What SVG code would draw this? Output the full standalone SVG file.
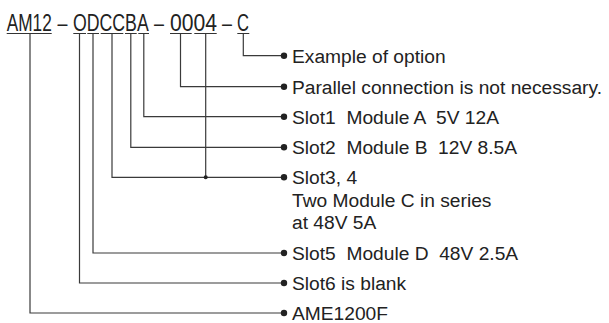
<svg xmlns="http://www.w3.org/2000/svg" width="609" height="323" viewBox="0 0 609 323">
<style>
.code{font-family:"Liberation Sans",Arial,sans-serif;font-size:23px;fill:#222;}
.lbl{font-family:"Liberation Sans",Arial,sans-serif;font-size:19.2px;fill:#222;}
.ul{stroke:#333;stroke-width:1.2;fill:none;}
.con{stroke:#3a3a3a;stroke-width:1.2;fill:none;}
.dot{fill:#222;}
</style>
<rect width="609" height="323" fill="#fff"/>
<g id="code">
<text class="code" transform="translate(6.7 31.3) scale(0.75 1)">AM12</text>
<text class="code" transform="translate(57.5 31.3) scale(0.78 1)">–</text>
<text class="code" transform="translate(73 31.3) scale(0.77 1)">ODCCBA</text>
<text class="code" transform="translate(154 31.3) scale(0.78 1)">–</text>
<text class="code" transform="translate(170 31.3) scale(0.92 1)">0004</text>
<text class="code" transform="translate(222 31.3) scale(0.78 1)">–</text>
<text class="code" transform="translate(237 31.3) scale(0.72 1)">C</text>
<path class="ul" d="M6.7 33.5H51.7M73.3 33.5H86M87.3 33.5H99M100.7 33.5H123.3M125 33.5H136.7M138.3 33.5H149M170 33.5H191.7M194.3 33.5H216.7M237.3 33.5H249.3"/>
</g>
<g id="connectors">
<path class="con" d="M243.3 34V55.7H283"/>
<path class="con" d="M180.5 34V86.7H283"/>
<path class="con" d="M143.8 34V116.7H283"/>
<path class="con" d="M130.8 34V147.3H283"/>
<path class="con" d="M112 34V177.3H283"/>
<path class="con" d="M205.7 34V177.3"/>
<path class="con" d="M93 34V253H283"/>
<path class="con" d="M79.5 34V283H283"/>
<path class="con" d="M30 34V313H283"/>
<circle class="dot" cx="205.7" cy="177.3" r="2"/>
</g>
<g id="opt"><circle class="dot" cx="284" cy="55.7" r="3.2"/><text class="lbl" x="292" y="62.5">Example of option</text></g>
<g id="parallel"><circle class="dot" cx="284" cy="86.7" r="3.2"/><text class="lbl" x="292" y="93.5">Parallel connection is not necessary.</text></g>
<g id="slot1"><circle class="dot" cx="284" cy="116.7" r="3.2"/><text class="lbl" x="292" y="123.5" xml:space="preserve">Slot1  Module A  5V 12A</text></g>
<g id="slot2"><circle class="dot" cx="284" cy="147.3" r="3.2"/><text class="lbl" x="292" y="154" xml:space="preserve">Slot2  Module B  12V 8.5A</text></g>
<g id="slot34"><circle class="dot" cx="284" cy="177.3" r="3.2"/><text class="lbl" x="292" y="184.3">Slot3, 4</text><text class="lbl" x="292" y="206.7">Two Module C in series</text><text class="lbl" x="292" y="229">at 48V 5A</text></g>
<g id="slot5"><circle class="dot" cx="284" cy="253" r="3.2"/><text class="lbl" x="292" y="259.6" xml:space="preserve">Slot5  Module D  48V 2.5A</text></g>
<g id="slot6"><circle class="dot" cx="284" cy="283" r="3.2"/><text class="lbl" x="292" y="289.6">Slot6 is blank</text></g>
<g id="model"><circle class="dot" cx="284" cy="313" r="3.2"/><text class="lbl" x="292" y="319.6">AME1200F</text></g>
</svg>
